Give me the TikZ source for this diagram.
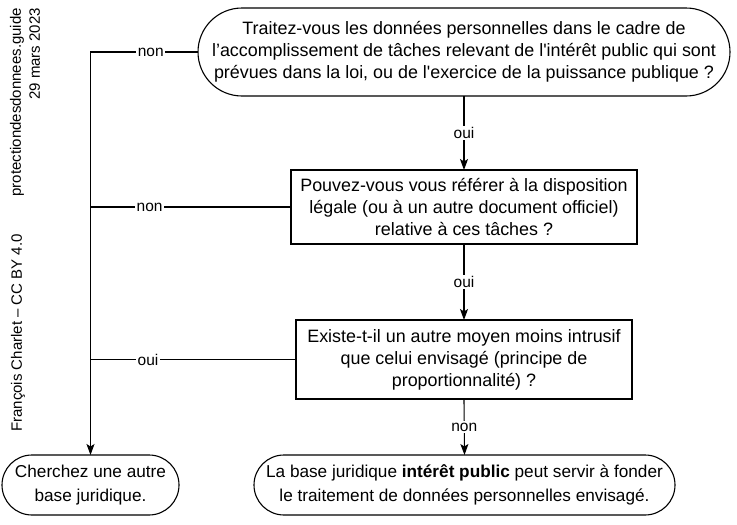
\documentclass[tikz,border=0pt]{standalone}
\usepackage{fontspec}
\setmainfont{Liberation Sans}[Ligatures=TeXOff]
\usetikzlibrary{arrows.meta}
\begin{document}
\begin{tikzpicture}[x=1pt,y=-1pt,
  every node/.style={inner sep=0pt, outer sep=0pt},
  box/.style={draw, line width=1.1pt, align=center, font=\fontsize{17.9}{22}\selectfont},
  qbox/.style={box},
  rbox/.style={box, font=\fontsize{17.2}{24}\selectfont},
  conn/.style={line width=1.1pt},
  arr/.style={conn, -{Stealth[length=11pt,width=8pt,inset=2.5pt]}},
  lbl/.style={fill=white, inner sep=1.5pt, font=\fontsize{15.5}{18}\selectfont},
  side/.style={font=\fontsize{15}{19}\selectfont, rotate=90}
]
\useasboundingbox (0,0) rectangle (737,525);

\node[qbox, rounded corners=44pt, minimum width=532pt, minimum height=88pt] (q1) at (464,52)
  {Traitez-vous les données personnelles dans le cadre de\\l’accomplissement de tâches relevant de l'intérêt public qui sont\\prévues dans la loi, ou de l'exercice de la puissance publique ?};
\node[qbox, minimum width=346pt, minimum height=74pt] (q2) at (464,207)
  {Pouvez-vous vous référer à la disposition\\légale (ou à un autre document officiel)\\relative à ces tâches ?};
\node[qbox, minimum width=336pt, minimum height=79pt] (q3) at (464,359.5)
  {Existe-t-il un autre moyen moins intrusif\\que celui envisagé (principe de\\proportionnalité) ?};
\node[rbox, rounded corners=30pt, minimum width=421pt, minimum height=60pt] (r2) at (464.5,485)
  {La base juridique \textbf{intérêt public} peut servir à fonder\\le traitement de données personnelles envisagé.};
\node[rbox, rounded corners=30pt, minimum width=177pt, minimum height=60pt] (r1) at (90.5,485)
  {Cherchez une autre\\base juridique.};

\node[side, align=right, anchor=north east] (src) at (10,8) {protectiondesdonnees.guide\\29 mars 2023};
\node[side] (auth) at (18,333) {François Charlet – CC BY 4.0};

\coordinate (c1) at (r1.north |- q1.west);
\coordinate (c2) at (r1.north |- q2.west);
\coordinate (c3) at (r1.north |- q3.west);

\draw[arr] (q1.south) -- node[lbl]{oui} (q2.north);
\draw[arr] (q2.south) -- node[lbl]{oui} (q3.north);
\draw[arr] (q3.south) -- node[lbl]{non} (r2.north);
\draw[arr] (q1.west) -- node[lbl, pos=0.44]{non} (c1) -- (r1.north);
\draw[conn] (q2.west) -- node[lbl, pos=0.705]{non} (c2);
\draw[conn] (q3.west) -- node[lbl, pos=0.72]{oui} (c3);
\end{tikzpicture}
\end{document}
